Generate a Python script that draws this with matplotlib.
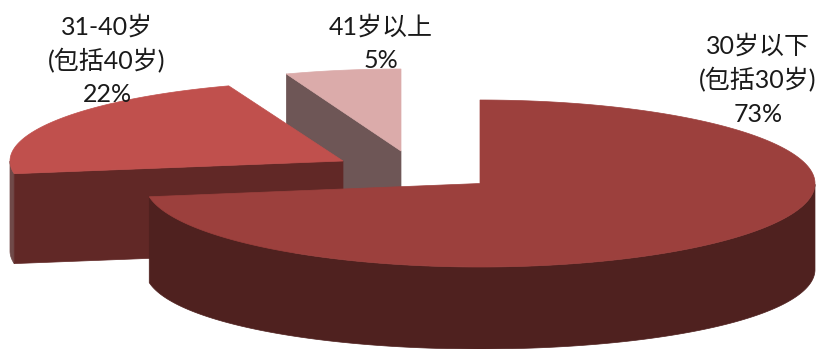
import numpy as np
import matplotlib
matplotlib.use("Agg")
import matplotlib.pyplot as plt
from matplotlib.patches import Polygon

# Age groups and their share of respondents, in percent
categories = ["30岁以下\n(包括30岁)", "31-40岁\n(包括40岁)", "41岁以上"]
shares = [73, 22, 5]

top_colors = ["#9C403D", "#C0504D", "#DBABAA"]
cut_colors = ["#4F211F", "#612826", "#6E5656"]
rim_colors = ["#4F211F", "#704A49", "#6E5656"]

# Exploded slice geometry on the pixel canvas: apex x, apex y, radius x, radius y, wall depth
geometry = [(480, 183.5, 335, 83.5, 84),
            (343, 161, 333, 80, 88),
            (401, 151, 334, 82, 86)]
label_pos = [(758, 46), (107, 26.5), (381, 27)]
LINE_STEP = 34

plt.rcParams["font.family"] = ["Lato", "Noto Sans CJK SC", "DejaVu Sans"]

fig = plt.figure(figsize=(8.26, 3.49), dpi=100)
ax = fig.add_axes([0, 0, 1, 1])
ax.set_xlim(0, 826)
ax.set_ylim(349, 0)
ax.axis("off")


def warp(theta):
    # The tilted view shifts slice boundaries a little away from the axes
    return theta + np.radians(2.5) * np.sin(theta) + np.radians(2.2) * np.sin(2 * theta)


def rim(theta, geo):
    cx, cy, rx, ry, _ = geo
    t = warp(theta)
    return np.column_stack([cx + rx * np.sin(t), cy - ry * np.cos(t)])


def wall_depth(theta, geo):
    return geo[4] + 4 * (np.sin(warp(theta)) ** 2 - 0.5)


# Slices run clockwise from twelve o'clock
edges = np.radians(np.cumsum([0] + shares) * 3.6)

# Back slices go first so the large one overlaps them
for layer, i in enumerate([2, 1, 0]):
    geo = geometry[i]
    a0, a1 = edges[i], edges[i + 1]
    thetas = np.linspace(a0, a1, 300)
    arc = rim(thetas, geo)
    apex = np.array(geo[:2], dtype=float)
    base_z = 10 * (layer + 1)

    # Outer wall: the stretch of rim facing the viewer
    front = thetas[np.cos(warp(thetas)) < 0.0]
    if front.size:
        upper = rim(front, geo)
        lower = upper + np.column_stack([np.zeros(front.size), wall_depth(front, geo)])
        ax.add_patch(Polygon(np.vstack([upper, lower[::-1]]), closed=True,
                             fc=rim_colors[i], ec=rim_colors[i], lw=0.5, zorder=base_z))

    # Cut face along the slice's leading edge, for the slices that show it
    if i > 0:
        edge = rim(np.array([a0]), geo)[0]
        d = wall_depth(np.array([a0]), geo)[0]
        quad = np.array([apex, edge, edge + [0, d], apex + [0, d]])
        ax.add_patch(Polygon(quad, closed=True, fc=cut_colors[i], ec=cut_colors[i],
                             lw=0.5, zorder=base_z + 1))

    # Top face
    ax.add_patch(Polygon(np.vstack([apex, arc]), closed=True, fc=top_colors[i],
                         ec=top_colors[i], lw=0.5, zorder=base_z + 2))

for name, share, (x, y) in zip(categories, shares, label_pos):
    lines = name.split("\n") + [f"{share}%"]
    for k, line in enumerate(lines):
        ax.text(x, y + k * LINE_STEP, line, ha="center", va="center",
                fontsize=18, color="#1a1a1a", zorder=100)

fig.savefig("out.png", dpi=100, facecolor="white")
